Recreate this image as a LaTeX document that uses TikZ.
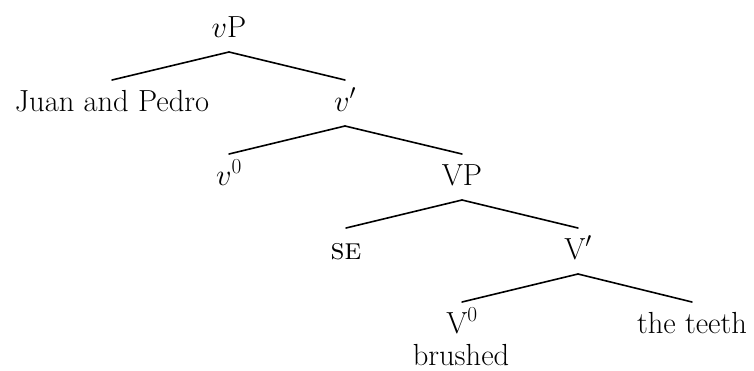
\RequirePackage{fix-cm}
\documentclass[tikz,border=0pt]{standalone}
\usepackage{fontspec}
\tikzset{
  lbl/.style={anchor=base, inner sep=0pt, font=\fontsize{30.5}{36}\selectfont},
  branch/.style={line width=1.6pt, line cap=round}
}
\begin{document}
\begin{tikzpicture}[x=1pt,y=-1pt]
\useasboundingbox (0,0) rectangle (754,370);
\node[lbl] (vP)  at (229,37)  {$v$P};
\node[lbl] (jp)  at (112,111) {Juan and Pedro};
\node[lbl] (vb)  at (345,111) {$v'$};
\node[lbl] (v0)  at (229,185) {$v^0$};
\node[lbl] (VP)  at (462,185) {VP};
\node[lbl] (se)  at (346,259) {\textsc{se}};
\node[lbl] (Vb)  at (578,259) {V$'$};
\node[lbl] (V0)  at (462,333) {V$^0$};
\node[lbl] (th)  at (692,333) {the teeth};
\node[lbl] (br)  at (461,365) {brushed};
\foreach \p/\c in {vP/jp, vP/vb, vb/v0, vb/VP, VP/se, VP/Vb, Vb/V0, Vb/th}
  \draw[branch] ([yshift=-15pt]\p.base) -- ([yshift=31pt]\c.base);
\end{tikzpicture}
\end{document}
